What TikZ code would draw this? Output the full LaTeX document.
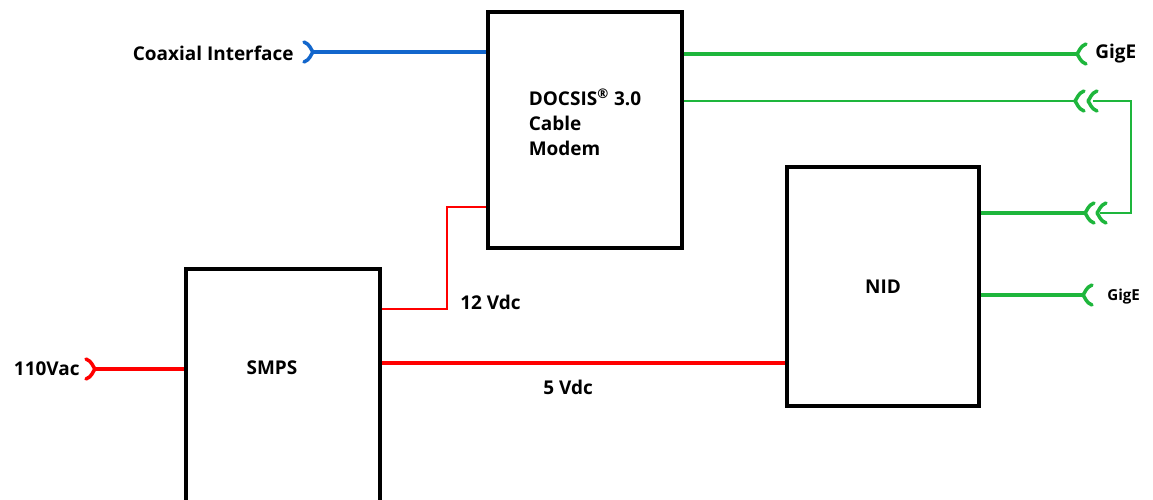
\documentclass[tikz,border=0pt]{standalone}
\usepackage{fontspec}
\setmainfont{Open Sans}
\usetikzlibrary{positioning}
\definecolor{coaxblue}{RGB}{18,102,204}
\definecolor{gigegreen}{RGB}{30,182,60}
\definecolor{pwrred}{RGB}{255,0,0}

\begin{document}
\begin{tikzpicture}[x=0.02cm,y=-0.02cm,
  box/.style={draw,line width=2pt,inner sep=0pt},
  lbl/.style={inner sep=0pt,font=\bfseries\fontsize{10.8}{14.2}\selectfont},
  smalllbl/.style={inner sep=0pt,font=\bfseries\fontsize{8.6}{10}\selectfont},
  coax/.style={coaxblue,line width=2pt},
  gigethick/.style={gigegreen,line width=2pt},
  gigethin/.style={gigegreen,line width=1pt},
  pwr/.style={pwrred,line width=2pt},
  pwrthick/.style={pwrred,line width=2.7pt},
  pwrthin/.style={pwrred,line width=1pt},
  plug/.pic={\draw[line cap=round,line join=round]
    (9,-10) .. controls (3,-8) and (2,-2) .. (0,0)
    .. controls (2,2) and (3,8) .. (9,10);}]
  \useasboundingbox (0,0) rectangle (1153,500);

  % blocks
  \node[box,minimum width=3.88cm,minimum height=4.72cm,
    label={[lbl,align=left,yshift=0.16cm]center:{DOCSIS\textsuperscript{®} 3.0\\Cable\\Modem}}]
    (modem) at (585,130) {};
  \node[box,lbl,minimum width=3.84cm,minimum height=4.78cm] (nid) at (883,286.5) {NID};
  \node[box,minimum width=3.88cm,minimum height=5.2cm,anchor=north] (smps) at (283,267) {};
  \node[lbl] (smpslbl) at (272,368) {SMPS};

  % coax input
  \coordinate (coaxend) at (313,52);
  \draw[coax] (coaxend -| modem.west) -- (coaxend);
  \pic[coax,rotate=180] at (coaxend) {plug};
  \node[lbl,anchor=east] (coaxlbl) at (294,53) {Coaxial Interface};

  % ethernet side
  \coordinate (gige1) at (1077,54);
  \draw[gigethick] (gige1 -| modem.east) -- (gige1);
  \pic[gigethick] at (gige1) {plug};
  \node[lbl,anchor=west] (gige1lbl) at (1095,54) {GigE};

  \coordinate (linkA) at (1075,101);
  \coordinate (linkB) at (1088,101);
  \coordinate (linkC) at (1085,213);
  \coordinate (linkD) at (1097,213);
  \coordinate (loopR) at (1131,101);
  \draw[gigethin] (linkA -| modem.east) -- (linkA);
  \pic[gigethick] at (linkA) {plug};
  \pic[gigethick] at (linkB) {plug};
  \draw[gigethick] (linkC -| nid.east) -- (linkC);
  \pic[gigethick] at (linkC) {plug};
  \pic[gigethick] at (linkD) {plug};
  \draw[gigethin,line width=1.4pt] ([xshift=0.1cm]linkB) -- (loopR) |- ([xshift=0.06cm]linkD);

  \coordinate (gige2) at (1083,295);
  \draw[gigethick] (gige2 -| nid.east) -- (gige2);
  \pic[gigethick] at (gige2) {plug};
  \node[smalllbl,anchor=west] (gige2lbl) at (1107,297) {GigE};

  % power
  \coordinate (acin) at (95,369);
  \draw[pwr] (acin) -- (acin -| smps.west);
  \pic[pwr,rotate=180] at (acin) {plug};
  \node[lbl,anchor=east] (aclbl) at (80,369) {110Vac};

  \coordinate (v12) at (447,309);
  \coordinate (v12top) at (447,207);
  \draw[pwrthin] (v12 -| smps.east) -- (v12) -- (v12top) -- (v12top -| modem.west);
  \node[lbl,anchor=west] (v12lbl) at (460,302) {12 Vdc};

  \coordinate (v5) at (600,363);
  \draw[pwrthick] (v5 -| smps.east) -- (v5 -| nid.west);
  \node[lbl,anchor=west] (v5lbl) at (543,387) {5 Vdc};
\end{tikzpicture}
\end{document}
